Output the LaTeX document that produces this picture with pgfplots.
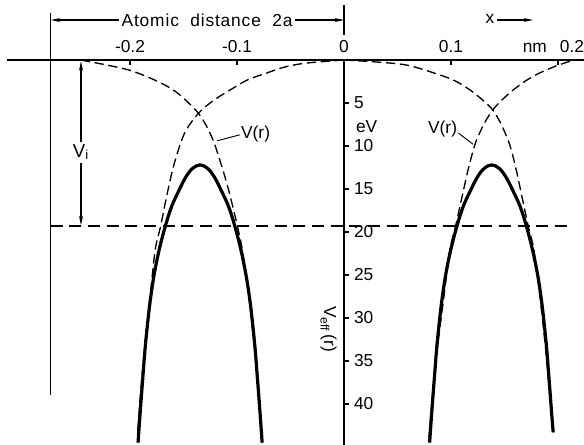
\documentclass[border=0pt]{standalone}
\usepackage{fontspec}
\setmainfont{Liberation Sans}
\usepackage{pgfplots}
\pgfplotsset{compat=1.18}
\usetikzlibrary{arrows.meta}
\begin{document}
\fontsize{13}{15}\selectfont
\begin{tikzpicture}
\begin{axis}[
  scale only axis, width=438pt, height=333.75pt,
  xmin=-0.3215, xmax=0.2243, ymin=-6.98, ymax=44.77, y dir=reverse,
  axis lines=middle, axis line style={draw=none},
  hide obscured x ticks=false, hide obscured y ticks=false,
  xtick={-0.2,-0.1,0,0.1}, xticklabels={-0.2,-0.1,0,0.1},
  extra x ticks={0.2}, extra x tick labels={nm\hspace{0.75em}0.2},
  extra x tick style={xticklabel style={anchor=south east, xshift=24pt}},
  ytick={5,10,...,40},
  xticklabel style={anchor=south, yshift=1pt},
  yticklabel style={anchor=west, xshift=3pt},
  /pgf/number format/assume math mode=true,
  tick style={line width=0.9pt, black},
  major tick length=4pt, tick align=inside,
  clip=false,
]
% axes
\draw[line width=1.2pt] (axis cs:-0.315,0) -- (axis cs:0.2243,0);
\draw[line width=1.1pt] (axis cs:0,0) -- (axis cs:0,44.77);
\draw[line width=0.8pt] (axis cs:-0.274,-5.47) -- (axis cs:-0.274,38.95);
\draw[line width=0.8pt] (axis cs:0,-6.4) -- (axis cs:0,-2.9);
% Atomic distance
\draw[line width=0.8pt, {Stealth[length=7pt,width=3pt]}-{Stealth[length=7pt,width=3pt]}] (axis cs:-0.274,-4.65) -- (axis cs:0,-4.65);
\node[fill=white, inner sep=2pt] at (axis cs:-0.128,-4.65) {\addfontfeature{LetterSpace=5}Atomic\ \ distance\ \ 2a};
\node at (axis cs:0.1364,-4.8) {x};
\draw[line width=0.8pt, -{Stealth[length=7pt,width=3pt]}] (axis cs:0.143,-4.65) -- (axis cs:0.1766,-4.65);
% V_i
\draw[line width=0.8pt, {Stealth[length=7pt,width=3pt]}-{Stealth[length=7pt,width=3pt]}] (axis cs:-0.2458,0.15) -- (axis cs:-0.2458,19.2);
\node[fill=white, inner sep=2pt, font=\fontsize{14}{16}\selectfont] at (axis cs:-0.2458,10.7) {V\textsubscript{i}};
% labels
\node[anchor=west, inner sep=0pt] at (axis cs:0.011,7.7) {eV};
\node[rotate=-90] at (axis cs:-0.0145,31.3) {V\textsubscript{eff}\,(r)};
\node[anchor=west, inner sep=0.5pt] at (axis cs:-0.097,8.6) {V(r)};
\draw[line width=0.7pt] (axis cs:-0.1187,9.4) -- (axis cs:-0.0975,8.7);
\node[anchor=east, inner sep=0.5pt] at (axis cs:0.1065,8.0) {V(r)};
\draw[line width=0.7pt] (axis cs:0.1070,8.5) -- (axis cs:0.1206,9.8);
% horizontal dashed level
\addplot[line width=0.9pt, dash pattern=on 9pt off 5pt] coordinates {(-0.274,19.3) (0.209,19.3)};
% dashed V(r) curves
\pgfplotsset{vr/.style={line width=1pt, dash pattern=on 7pt off 3.5pt, smooth, tension=0.5}}
\addplot[vr] coordinates {
(-0.246,0.0) (-0.221,0.6) (-0.200,1.2) (-0.181,2.1) (-0.166,3.0) (-0.156,3.8)
(-0.146,4.9) (-0.136,6.2) (-0.128,7.8) (-0.1206,9.9) (-0.111,13.7) (-0.105,16.5)
(-0.0995,19.4) (-0.095,22.1) (-0.0885,27.9) (-0.0835,33.7) (-0.0797,38.5) (-0.0765,44.5)};
\addplot[vr] coordinates {
(0.000,0.0) (-0.035,0.35) (-0.055,0.8) (-0.072,1.5) (-0.090,2.3) (-0.104,3.3)
(-0.122,4.7) (-0.136,6.2) (-0.149,8.5) (-0.159,12.2) (-0.166,16.0) (-0.1715,19.4)
(-0.1765,22.1) (-0.1815,27.9) (-0.1865,33.7) (-0.190,38.5) (-0.193,43.5)};
\addplot[vr] coordinates {
(0.000,0.0) (0.027,0.2) (0.059,0.6) (0.090,1.75) (0.105,2.5) (0.118,3.5)
(0.129,4.6) (0.139,5.8) (0.147,7.5) (0.155,9.9) (0.161,12.8) (0.1665,16.0)
(0.1725,19.5) (0.1775,22.1) (0.1835,27.9) (0.1885,33.7) (0.192,38.5) (0.1955,43.3)};
\addplot[vr] coordinates {
(0.211,0.15) (0.198,0.7) (0.183,1.5) (0.170,2.4) (0.158,3.5) (0.148,4.6)
(0.139,5.8) (0.131,7.4) (0.123,9.6) (0.1165,12.5) (0.1105,15.8) (0.1045,19.2)
(0.099,22.1) (0.093,27.9) (0.087,33.7) (0.083,38.5) (0.079,44.5)};
% solid V_eff curves
\pgfplotsset{ve/.style={line width=2.4pt, smooth, tension=0.6}}
\addplot[ve] coordinates {
(-0.1925,44.5) (-0.1908,41.5) (-0.1890,38.5) (-0.1875,36.1) (-0.1860,33.7)
(-0.1837,30.8) (-0.1810,27.9) (-0.1775,25.0) (-0.1728,22.1) (-0.1667,19.2)
(-0.1610,17.0) (-0.1540,15.1) (-0.1478,13.6) (-0.1415,12.6) (-0.1345,12.2)
(-0.1275,12.6) (-0.1212,13.6) (-0.1150,15.1) (-0.1080,17.0) (-0.1023,19.2)
(-0.0963,22.1) (-0.0916,25.0) (-0.0880,27.9) (-0.0853,30.8) (-0.0830,33.7)
(-0.0815,36.1) (-0.0800,38.5) (-0.0782,41.5) (-0.0765,44.5)};
\addplot[ve] coordinates {
(0.0800,44.5) (0.0817,41.5) (0.0835,38.5) (0.0850,36.1) (0.0865,33.7)
(0.0888,30.8) (0.0915,27.9) (0.0950,25.0) (0.0997,22.1) (0.1058,19.2)
(0.1115,17.0) (0.1185,15.1) (0.1247,13.6) (0.1310,12.6) (0.1380,12.2)
(0.1450,12.6) (0.1513,13.6) (0.1575,15.1) (0.1645,17.0) (0.1702,19.2)
(0.1762,22.1) (0.1810,25.0) (0.1845,27.9) (0.1872,30.8) (0.1895,33.7)
(0.1910,36.1) (0.1925,38.5) (0.1940,41.0) (0.1955,43.3)};
\end{axis}
\pgfresetboundingbox
\path (current axis.south west) rectangle (current axis.north east);
\end{tikzpicture}
\end{document}
